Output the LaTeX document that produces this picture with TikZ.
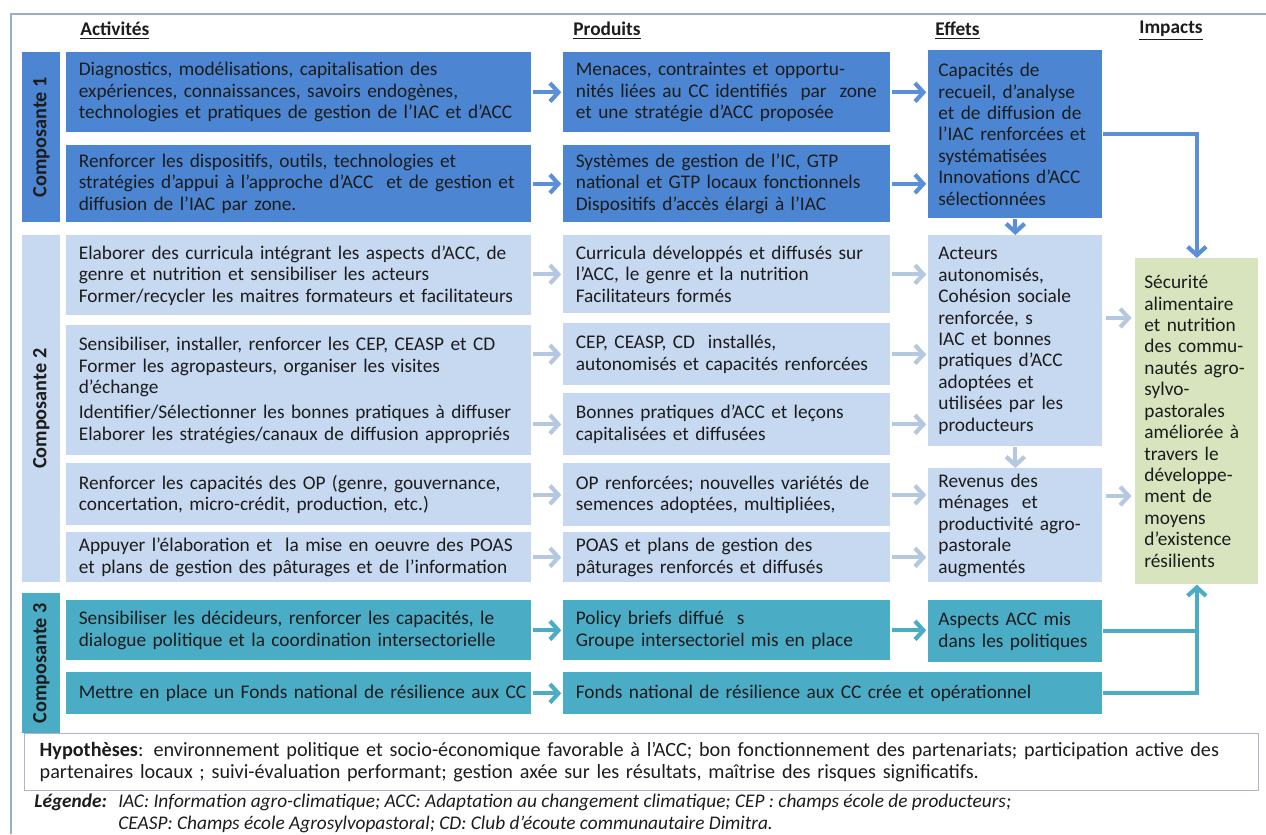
\documentclass[tikz,border=0pt]{standalone}
\usepackage{fontspec}
\setmainfont{Carlito}
\usetikzlibrary{arrows.meta,calc}
\definecolor{cA}{HTML}{4C86D2}
\definecolor{cB}{HTML}{C6D9F1}
\definecolor{cC}{HTML}{4BACC6}
\definecolor{cG}{HTML}{D7E4BD}
\definecolor{arA}{HTML}{5B90D8}
\definecolor{arB}{HTML}{B4C8E2}
\definecolor{arC}{HTML}{4BACC6}
\definecolor{txt}{HTML}{1C1C1C}
\definecolor{frameC}{HTML}{9AAEC6}
\definecolor{hypC}{HTML}{B9AFCB}
\begin{document}
\begin{tikzpicture}[x=0.02cm,y=-0.02cm,
  every node/.style={text=txt, font=\fontsize{11}{12.2}\selectfont},
  box/.style={anchor=north west, inner ysep=0pt, align=left},
  wA/.style={box, minimum width=9.3cm, text width=8.8cm, inner xsep=0.25cm},
  wP/.style={box, minimum width=6.54cm, text width=6.04cm, inner xsep=0.25cm},
  wE/.style={box, minimum width=3.48cm, text width=3.08cm, inner xsep=0.2cm},
  bar/.style={anchor=north west, inner sep=0pt, minimum width=0.76cm},
  bartext/.style={rotate=90, font=\fontsize{11.5}{12}\selectfont\bfseries},
  hdr/.style={anchor=west, inner sep=0pt, font=\fontsize{11}{12}\selectfont\bfseries},
  arrA/.style={draw=arA, line width=2.4pt, -{Straight Barb[length=4.8pt,width=10.5pt]}},
  arrB/.style={draw=arB, line width=2.4pt, -{Straight Barb[length=4.8pt,width=10.5pt]}},
  arrC/.style={draw=arC, line width=2.4pt, -{Straight Barb[length=4.8pt,width=10.5pt]}},
  lineC/.style={draw=arC, line width=2.4pt}
]
\useasboundingbox (0,0) rectangle (1266,834);
% outer frame
\draw[frameC, line width=1pt] (11,834) -- (11,14) -- (1266,14);

% headers
\node[hdr] (hA) at (80,31) {\underline{Activités}};
\node[hdr] (hP) at (573,31) {\underline{Produits}};
\node[hdr] (hE) at (935,31) {\underline{Effets}};
\node[hdr] (hI) at (1139,31) {\underline{Impacts}};

% component bars
\node[bar, fill=cA, minimum height=3.4cm] (c1) at (22,52) {};
\node[bartext] at (c1) {Composante 1};
\node[bar, fill=cB, minimum height=6.94cm] (c2) at (22,235) {};
\node[bartext] at (c2) {Composante 2};
\node[bar, fill=cC, minimum height=2.8cm] (c3) at (22,593) {};
\node[bartext] at (c3) {Composante 3};

% Composante 1
\node[wA, fill=cA, minimum height=1.6cm] (a1) at (66,52) {Diagnostics, modélisations, capitalisation des\\expériences, connaissances, savoirs endogènes,\\\mbox{technologies et pratiques de gestion de l’IAC et d’ACC}};
\node[wA, fill=cA, minimum height=1.54cm] (a2) at (66,145) {Renforcer les dispositifs, outils, technologies et\\\mbox{stratégies d’appui à l’approche d’ACC~ et de gestion et}\\diffusion de l’IAC par zone.};
\node[wP, fill=cA, minimum height=1.6cm] (p1) at (563,52) {Menaces, contraintes et opportu-\\nités liées au CC identifiés~ par~ zone\\et une stratégie d’ACC proposée};
\node[wP, fill=cA, minimum height=1.54cm] (p2) at (563,145) {Systèmes de gestion de l’IC, GTP\\national et GTP locaux fonctionnels\\Dispositifs d’accès élargi à l’IAC};
\node[wE, fill=cA, minimum height=3.36cm] (e1) at (928,50) {Capacités de\\recueil, d’analyse\\et de diffusion de\\l’IAC renforcées et\\systématisées\\Innovations d’ACC\\sélectionnées};

% Composante 2
\node[wA, fill=cB, minimum height=1.6cm] (a3) at (66,235) {Elaborer des curricula intégrant les aspects d’ACC, de\\genre et nutrition et sensibiliser les acteurs\\\mbox{Former/recycler les maitres formateurs et facilitateurs}};
\node[wA, fill=cB, minimum height=2.6cm] (a4) at (66,325) {Sensibiliser, installer, renforcer les CEP, CEASP et CD\\Former les agropasteurs, organiser les visites\\d’échange\\[2pt]\mbox{Identifier/Sélectionner les bonnes pratiques à diffuser}\\\mbox{Elaborer les stratégies/canaux de diffusion appropriés}};
\node[wA, fill=cB, minimum height=1.24cm] (a6) at (66,463) {Renforcer les capacités des OP (genre, gouvernance,\\concertation, micro-crédit, production, etc.)};
\node[wA, fill=cB, minimum height=1.0cm] (a7) at (66,532) {Appuyer l’élaboration et~ la mise en oeuvre des POAS\\et plans de gestion des pâturages et de l’information};
\node[wP, fill=cB, minimum height=1.56cm] (p3) at (563,235) {Curricula développés et diffusés sur\\l’ACC, le genre et la nutrition\\Facilitateurs formés};
\node[wP, fill=cB, minimum height=1.24cm] (p4) at (563,323) {CEP, CEASP, CD~ installés,\\autonomisés et capacités renforcées};
\node[wP, fill=cB, minimum height=1.24cm] (p5) at (563,393) {Bonnes pratiques d’ACC et leçons\\capitalisées et diffusées};
\node[wP, fill=cB, minimum height=1.26cm] (p6) at (563,463) {OP renforcées; nouvelles variétés de\\semences adoptées, multipliées,};
\node[wP, fill=cB, minimum height=1.0cm] (p7) at (563,532) {POAS et plans de gestion des\\pâturages renforcés et diffusés};
\node[wE, fill=cB, minimum height=4.22cm] (e2) at (928,235) {Acteurs\\autonomisés,\\Cohésion sociale\\renforcée, s\\IAC et bonnes\\pratiques d’ACC\\adoptées et\\utilisées par les\\producteurs};
\node[wE, fill=cB, minimum height=2.28cm] (e3) at (928,468) {Revenus des\\ménages~ et\\productivité agro-\\pastorale\\augmentés};

% Composante 3
\node[wA, fill=cC, minimum height=1.2cm] (a8) at (66,600) {Sensibiliser les décideurs, renforcer les capacités, le\\\mbox{dialogue politique et la coordination intersectorielle}};
\node[wA, fill=cC, minimum height=0.84cm] (a9) at (66,672) {\mbox{Mettre en place un Fonds national de résilience aux CC}};
\node[wP, fill=cC, minimum height=1.2cm] (p8) at (563,600) {Policy briefs diffué~ s\\Groupe intersectoriel mis en place};
\node[box, fill=cC, minimum width=10.78cm, text width=10.28cm, inner xsep=0.25cm, minimum height=0.84cm] (p9) at (563,672) {Fonds national de résilience aux CC crée et opérationnel};
\node[wE, fill=cC, minimum height=1.24cm] (e4) at (928,600) {Aspects ACC mis\\dans les politiques};

% Impact
\node[box, fill=cG, minimum width=2.46cm, text width=2.1cm, inner xsep=0.18cm, minimum height=6.52cm] (imp) at (1135,258) {Sécurité\\alimentaire\\et nutrition\\des commu-\\nautés agro-\\sylvo-\\pastorales\\améliorée à\\travers le\\développe-\\ment de\\moyens\\d’existence\\résilients};

% arrows Composante 1
\draw[arrA] ([xshift=1pt]a1.east) -- ([xshift=-1pt]p1.west);
\draw[arrA] ([xshift=1pt]a2.east) -- ([xshift=-1pt]p2.west);
\draw[arrA] ([xshift=1pt]p1.east) -- ([xshift=-1pt]p1.east -| e1.west);
\draw[arrA] ([xshift=1pt]p2.east) -- ([xshift=-1pt]p2.east -| e1.west);
\draw[arrA] (e1.south) -- (e2.north);
\draw[arrA] (e1.east |- 0,134) -| (imp.north);

% arrows Composante 2
\draw[arrB] ([xshift=1pt]a3.east |- p3.west) -- ([xshift=-1pt]p3.west);
\draw[arrB] ([xshift=1pt]a4.east |- p4.west) -- ([xshift=-1pt]p4.west);
\draw[arrB] ([xshift=1pt]a4.east |- p5.west) -- ([xshift=-1pt]p5.west);
\draw[arrB] ([xshift=1pt]a6.east |- p6.west) -- ([xshift=-1pt]p6.west);
\draw[arrB] ([xshift=1pt]a7.east |- p7.west) -- ([xshift=-1pt]p7.west);
\draw[arrB] ([xshift=1pt]p3.east) -- ([xshift=-1pt]p3.east -| e2.west);
\draw[arrB] ([xshift=1pt]p4.east) -- ([xshift=-1pt]p4.east -| e2.west);
\draw[arrB] ([xshift=1pt]p5.east) -- ([xshift=-1pt]p5.east -| e2.west);
\draw[arrB] ([xshift=1pt]p6.east) -- ([xshift=-1pt]p6.east -| e3.west);
\draw[arrB] ([xshift=1pt]p7.east) -- ([xshift=-1pt]p7.east -| e3.west);
\draw[arrB] (e2.south) -- (e3.north);
\draw[arrB] ([xshift=2pt]e2.east |- 0,318) -- ([xshift=-2pt]imp.west |- 0,318);
\draw[arrB] ([xshift=2pt]e3.east |- 0,496) -- ([xshift=-2pt]imp.west |- 0,496);

% arrows Composante 3
\draw[arrC] ([xshift=1pt]a8.east |- p8.west) -- ([xshift=-1pt]p8.west);
\draw[arrC] ([xshift=1pt]a9.east) -- ([xshift=-1pt]p9.west);
\draw[arrC] ([xshift=1pt]p8.east) -- ([xshift=-1pt]p8.east -| e4.west);
\draw[lineC] (e4.east) -- (e4.east -| imp.south);
\draw[arrC] (p9.east) -| (imp.south);

% hypotheses
\node[box, draw=hypC, line width=0.8pt, minimum width=24.68cm, text width=24.08cm, inner xsep=0.3cm, minimum height=1.14cm, font=\fontsize{11.5}{12.4}\selectfont] (hyp) at (24,733) {\textbf{Hypothèses}: environnement politique et socio-économique favorable à l’ACC; bon fonctionnement des partenariats; participation active des\\partenaires locaux ; suivi-évaluation performant; gestion axée sur les résultats, maîtrise des risques significatifs.};

% legend
\node[anchor=north west, inner sep=0pt] (legk) at (34,794) {\textbf{\textit{Légende:}}};
\node[anchor=north west, inner sep=0pt, align=left] (legt) at (118,794) {\textit{IAC: Information agro-climatique; ACC: Adaptation au changement climatique; CEP : champs école de producteurs;}\\\textit{CEASP: Champs école Agrosylvopastoral; CD: Club d’écoute communautaire Dimitra.}};
\end{tikzpicture}
\end{document}
